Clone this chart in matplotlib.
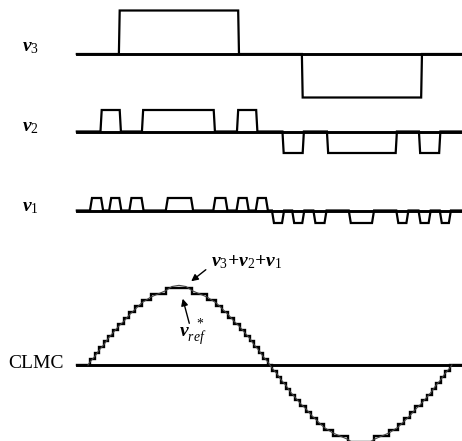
import matplotlib
matplotlib.use('Agg')
import matplotlib.pyplot as plt

plt.rcParams['mathtext.fontset'] = 'custom'
plt.rcParams['mathtext.rm'] = 'Liberation Serif'
plt.rcParams['mathtext.it'] = 'Liberation Serif:italic'
plt.rcParams['mathtext.bf'] = 'Liberation Serif:bold:italic'
plt.rcParams['font.family'] = ['Liberation Serif', 'DejaVu Serif']

# ---------------- data (time in electrical degrees, amplitude in levels) ----
t_start, t_end = -11, 372

v3_pos = [(31, 149)]
v3_neg = [(212, 330)]
v2_pos = [(13, 32), (54, 125), (148, 167)]
v2_neg = [(193, 213), (237, 305), (328, 348)]
v1_pos = [(3, 14), (22, 32), (42, 54), (78, 103), (125, 137), (148, 158), (167, 177)]
v1_neg = [(183, 193), (203, 213), (224, 235), (259, 282), (306, 316), (328, 338), (349, 358)]

stair_t = [-11, 2, 7, 11, 16, 20, 25, 30, 36, 41, 47, 53, 62, 77,
           103, 118, 127, 133, 139, 144, 150, 155, 160, 164, 169, 173, 178,
           182, 187, 191, 196, 200, 205, 210, 216, 221, 227, 233, 242, 257,
           283, 298, 307, 313, 319, 324, 330, 335, 340, 344, 349, 353, 358, 372]
stair_v = [0, 1, 2, 3, 4, 5, 6, 7, 8, 9, 10, 11, 12, 13,
           12, 11, 10, 9, 8, 7, 6, 5, 4, 3, 2, 1, 0,
           -1, -2, -3, -4, -5, -6, -7, -8, -9, -10, -11, -12, -13,
           -12, -11, -10, -9, -8, -7, -6, -5, -4, -3, -2, -1, 0, 0]

vref_t = [0, 2, 7, 11, 16, 20, 25, 30, 36, 41, 47, 53, 62, 77, 83, 90, 97, 103,
          118, 127, 133, 139, 144, 150, 155, 160, 164, 169, 173, 178, 180,
          182, 187, 191, 196, 200, 205, 210, 216, 221, 227, 233, 242, 257, 263, 270, 277, 283,
          298, 307, 313, 319, 324, 330, 335, 340, 344, 349, 353, 358, 360]
vref_v = [0, 0.5, 1.5, 2.5, 3.5, 4.5, 5.5, 6.5, 7.5, 8.5, 9.5, 10.5, 11.5, 12.6, 13.3, 13.5, 13.3, 12.6,
          11.5, 10.5, 9.5, 8.5, 7.5, 6.5, 5.5, 4.5, 3.5, 2.5, 1.5, 0.5, 0,
          -0.5, -1.5, -2.5, -3.5, -4.5, -5.5, -6.5, -7.5, -8.5, -9.5, -10.5, -11.5, -12.6, -13.3, -13.5, -13.3, -12.6,
          -11.5, -10.5, -9.5, -8.5, -7.5, -6.5, -5.5, -4.5, -3.5, -2.5, -1.5, -0.5, 0]

# ---------------- layout ----------------
W, H = 462, 441
fig = plt.figure(figsize=(W / 100, H / 100), dpi=100)
XLIM = (-87, 370)


def row_axes(base, unit, top, bot):
    ax = fig.add_axes([0, 1 - bot / H, 1, (bot - top) / H])
    ax.set_xlim(*XLIM)
    ax.set_ylim((base - bot) / unit, (base - top) / unit)
    ax.axis('off')
    return ax


def pulse_train(pos, neg, ramp):
    events = [(a, b, 1) for a, b in pos] + [(a, b, -1) for a, b in neg]
    events.sort()
    xs, ys = [t_start], [0]
    for a, b, s in events:
        xs += [a - ramp / 2, a + ramp / 2, b - ramp / 2, b + ramp / 2]
        ys += [0, s, s, 0]
    xs.append(t_end)
    ys.append(0)
    return xs, ys


LW = 1.6
for (pos, neg, base, unit, top, bot, ramp) in [
        (v3_pos, v3_neg, 54, 43.5, 0, 110, 0.8),
        (v2_pos, v2_neg, 131.5, 21.5, 100, 170, 1.2),
        (v1_pos, v1_neg, 210.5, 12.5, 185, 235, 2.0)]:
    ax = row_axes(base, unit, top, bot)
    xs, ys = pulse_train(pos, neg, ramp)
    ax.plot(xs, ys, color='black', lw=LW, solid_joinstyle='miter', clip_on=False)
    ax.plot([t_start, t_end], [0, 0], color='black', lw=LW + 0.5, clip_on=False)

# CLMC panel
ax = row_axes(365, 5.9, 240, 441)
ax.plot([t_start, t_end], [0, 0], color='black', lw=LW + 0.5, clip_on=False)
ax.step(stair_t, stair_v, where='post', color='black', lw=1.7, solid_joinstyle='miter', clip_on=False)
ax.plot(vref_t, vref_v, color='#444444', lw=0.8, clip_on=False)

# labels
fs = 14
fig.text(22 / W, 1 - 47 / H, r'$\mathbf{v}_3$', fontsize=fs, va='center', ha='left')
fig.text(22 / W, 1 - 128 / H, r'$\mathbf{v}_2$', fontsize=fs, va='center', ha='left')
fig.text(22 / W, 1 - 207 / H, r'$\mathbf{v}_1$', fontsize=fs, va='center', ha='left')
fig.text(8 / W, 1 - 363 / H, 'CLMC', fontsize=14, va='center', ha='left', family='Liberation Serif')

fig.text(211 / W, 1 - 262 / H, r'$\mathbf{v}_3\mathbf{+v}_2\mathbf{+v}_1$', fontsize=fs, va='center', ha='left')
fig.text(179 / W, 1 - 333 / H, r'$\mathbf{v}_{ref}^{\ \ *}$', fontsize=fs, va='center', ha='left')

fig.add_artist(matplotlib.patches.FancyArrowPatch(
    (208 / W, 1 - 268 / H), (189 / W, 1 - 283 / H), transform=fig.transFigure,
    arrowstyle='-|>,head_length=4,head_width=2', color='black', lw=1.0))
fig.add_artist(matplotlib.patches.FancyArrowPatch(
    (190 / W, 1 - 326 / H), (182 / W, 1 - 296 / H), transform=fig.transFigure,
    arrowstyle='-|>,head_length=4,head_width=2', color='black', lw=1.0))

fig.savefig('out.png', dpi=100)
